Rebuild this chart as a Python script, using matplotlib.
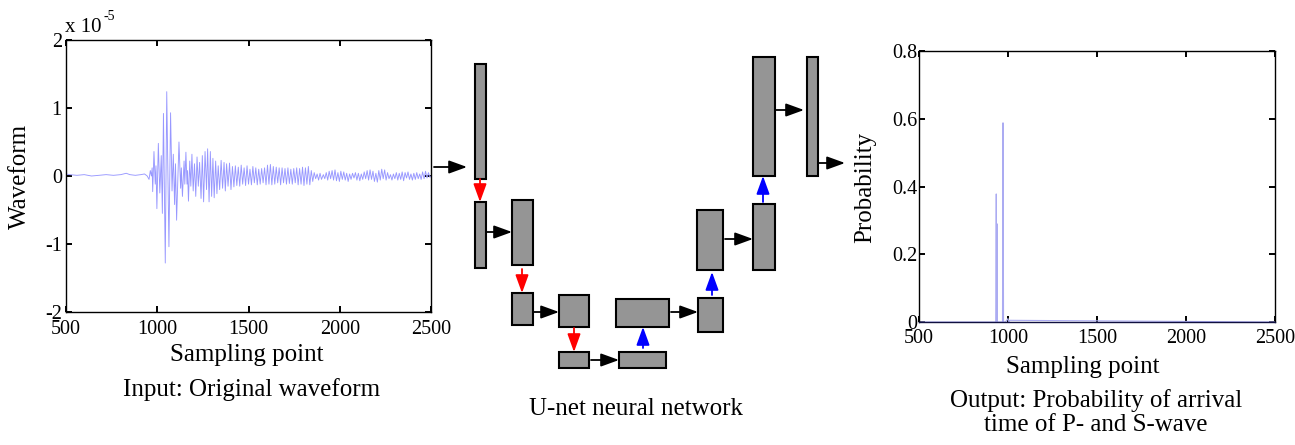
"""Input waveform -> U-net -> arrival probability, redrawn with matplotlib."""

import matplotlib

matplotlib.use("Agg")
import matplotlib.pyplot as plt
from matplotlib.patches import Rectangle
import numpy as np

plt.rcParams["font.family"] = ["Liberation Serif", "DejaVu Serif"]
plt.rcParams["axes.unicode_minus"] = False

# ---- input waveform (amplitude in units of 1e-5), extremes ----
wave_x = [
    500, 520, 560, 600, 640, 680, 720, 760, 800, 830, 850, 880, 910, 930, 945, 955, 962, 968, 972,
    975, 982, 989, 993, 998, 1006, 1014, 1022, 1028, 1034, 1044, 1052, 1064, 1073,
    1081, 1088, 1095, 1100, 1106, 1119, 1128, 1132, 1138, 1147, 1151, 1157, 1163, 1166, 1171,
    1178, 1184, 1190, 1197, 1204, 1211, 1218, 1225, 1232, 1240, 1247, 1254, 1262, 1270,
    1276, 1284, 1291, 1298, 1305, 1312, 1320, 1327, 1334, 1342,
    1350, 1358, 1366, 1373, 1380, 1388, 1396, 1404, 1412, 1420, 1428, 1436, 1444, 1452, 1460,
    1468, 1476, 1484, 1492, 1500,
    1508, 1516, 1524, 1532, 1540, 1548, 1556, 1564, 1572, 1580, 1588, 1596, 1604, 1612, 1620,
    1628, 1636, 1644, 1652, 1660, 1668, 1676, 1684, 1692, 1700, 1708, 1716, 1724, 1732, 1740,
    1748, 1756, 1764, 1772, 1780, 1788, 1796, 1804, 1812, 1820, 1828, 1836,
    1844, 1852, 1860, 1868, 1876, 1884, 1892, 1900, 1910, 1918, 1926, 1934, 1942, 1950, 1958,
    1966, 1974, 1982, 1990, 1998, 2006, 2014, 2022, 2030, 2038, 2046, 2054, 2062, 2070, 2078,
    2086, 2094, 2102, 2110, 2118, 2126, 2134, 2142, 2150, 2158, 2166, 2174, 2182, 2190, 2198,
    2206, 2214, 2222, 2230, 2238, 2246, 2254, 2262, 2270, 2278, 2286, 2294, 2302, 2310, 2318,
    2326, 2334, 2342, 2350, 2358, 2366, 2374, 2382, 2390, 2398, 2406, 2414, 2422, 2430, 2438,
    2446, 2454, 2462, 2470, 2478, 2486, 2494, 2500,
]
wave_amp = [
    0.03, 0.02, 0.01, 0.02, 0.00, 0.01, 0.02, 0.01, 0.02, 0.04, 0.02, 0.01, 0.02, 0.03, 0.00, -0.05, 0.08, 0.00, 0.12,
    -0.23, 0.36, -0.12, 0.15, -0.48, 0.48, -0.25, 0.30, -0.55, 0.92, -1.28, 1.24, -1.04, 0.93,
    -0.22, 0.32, -0.42, 0.18, -0.65, 0.50, -0.18, 0.12, -0.30, 0.22, -0.12, 0.35, -0.12, 0.08, -0.37,
    0.22, -0.15, 0.32, -0.22, 0.18, -0.30, 0.28, -0.15, 0.20, -0.33, 0.30, -0.38, 0.36, -0.20,
    0.40, -0.38, 0.36, -0.30, 0.26, -0.32, 0.22, -0.26, 0.15, -0.20,
    0.23, -0.18, 0.20, -0.22, 0.18, -0.15, 0.19, -0.20, 0.14, -0.16, 0.15, -0.14, 0.13, -0.15, 0.16,
    -0.12, 0.12, -0.14, 0.15, -0.12,
    0.10, -0.13, 0.14, -0.10, 0.12, -0.13, 0.10, -0.12, 0.11, -0.10, 0.12, -0.13, 0.16, -0.12, 0.17,
    -0.13, 0.14, -0.12, 0.13, -0.10, 0.12, -0.13, 0.12, -0.10, 0.11, -0.12, 0.12, -0.11, 0.10, -0.12,
    0.11, -0.10, 0.12, -0.13, 0.11, -0.12, 0.13, -0.14, 0.12, -0.12, 0.14, -0.13,
    0.08, -0.08, 0.05, -0.04, 0.03, -0.06, 0.04, -0.05, 0.02, -0.04, 0.05, -0.06, 0.07, -0.04, 0.08,
    -0.06, 0.09, -0.07, 0.05, -0.08, 0.07, -0.05, 0.06, -0.06, 0.04, -0.08, 0.03, -0.05, 0.04, -0.03,
    0.05, -0.06, 0.04, -0.07, 0.03, -0.05, 0.06, -0.04, 0.08, -0.06, 0.09, -0.05, 0.07, -0.08, 0.04,
    -0.09, 0.08, -0.06, 0.10, -0.04, 0.09, -0.06, 0.05, -0.04, 0.02, -0.06, 0.03, -0.04, 0.05, -0.06,
    0.04, -0.05, 0.06, -0.07, 0.05, -0.03, 0.06, -0.05, 0.03, -0.06, 0.04, -0.05, 0.05, -0.04, 0.03,
    -0.05, 0.06, -0.04, 0.07, -0.03, 0.05, -0.02, 0.00,
]

# ---- output probability ----
prob_x = [500, 931, 934, 936, 938, 940, 969, 972, 975, 985, 1000, 1004, 1010, 2500]
prob_y = [0.0, 0.0, 0.378, 0.0, 0.29, 0.0, 0.0, 0.588, 0.0, 0.0, 0.01, 0.0, 0.005, 0.0]

wave_ticks_x = [500, 1000, 1500, 2000, 2500]
wave_ticks_y = [-2, -1, 0, 1, 2]
prob_ticks_y = [0, 0.2, 0.4, 0.6, 0.8]
prob_tick_labels = ["0", "0.2", "0.4", "0.6", "0.8"]

# ---- U-net sketch, figure pixels: (x0, y0, x1, y1) ----
unet_blocks = [
    (475, 64, 486, 179), (475, 202, 486, 268), (512, 200, 533, 265), (512, 293, 533, 325),
    (559, 295, 589, 327), (559, 352, 589, 368), (619, 352, 666, 368), (616, 299, 669, 327),
    (698, 298, 723, 332), (697, 210, 723, 270), (753, 204, 775, 270), (753, 57, 775, 176),
    (807, 57, 818, 176),
]
unet_arrows = [
    (434, 167, 467, 167, "black"), (480, 179, 480, 202, "red"), (486, 232, 512, 232, "black"),
    (522, 269, 522, 293, "red"), (533, 312, 559, 312, "black"), (574, 328, 574, 352, "red"),
    (591, 360, 619, 360, "black"), (643, 348, 643, 327, "blue"), (671, 312, 698, 312, "black"),
    (712, 295, 712, 272, "blue"), (725, 239, 753, 239, "black"), (763, 202, 763, 176, "blue"),
    (776, 110, 804, 110, "black"), (819, 163, 845, 163, "black"),
]

W, H = 1295, 445
TICK_FS = 14.5
LABEL_FS = 18


def style_axes(ax):
    ax.tick_params(direction="in", top=True, right=True, length=4, width=1.4,
                   labelsize=TICK_FS)
    for sp in ax.spines.values():
        sp.set_linewidth(1.0)


fig = plt.figure(figsize=(W / 100, H / 100), dpi=100)

# input waveform
ax1 = fig.add_axes([66 / W, 1 - 312 / H, 365 / W, 272 / H])
ax1.plot(wave_x, wave_amp, color="#9898ff", lw=0.65)
ax1.set_xlim(500, 2500)
ax1.set_ylim(-2, 2)
ax1.set_xticks(wave_ticks_x)
ax1.set_yticks(wave_ticks_y)
style_axes(ax1)
ax1.tick_params(axis="y", pad=3)
ax1.tick_params(axis="x", pad=6)
ax1.set_xlabel("Sampling point", fontsize=LABEL_FS)
ax1.set_ylabel("Waveform", fontsize=LABEL_FS)
ax1.xaxis.set_label_coords(0.494, -0.158)
ax1.yaxis.set_label_coords(-0.126, 0.5)
ax1.xaxis.label.set_va("center")
ax1.yaxis.label.set_va("center")

# output probability
ax2 = fig.add_axes([919 / W, 1 - 322 / H, 356 / W, 271 / H])
ax2.plot(prob_x, prob_y, color="#ababf2", lw=0.8)
ax2.set_xlim(500, 2500)
ax2.set_ylim(0, 0.8)
ax2.set_xticks(wave_ticks_x)
ax2.set_yticks(prob_ticks_y)
ax2.set_yticklabels(prob_tick_labels)
style_axes(ax2)
ax2.spines["bottom"].set_color("#101040")
ax2.tick_params(axis="y", pad=1)
ax2.tick_params(axis="x", pad=5)
ax2.set_xlabel("Sampling point", fontsize=LABEL_FS)
ax2.set_ylabel("Probability", fontsize=LABEL_FS)
ax2.xaxis.set_label_coords(0.461, -0.166)
ax2.yaxis.set_label_coords(-0.152, 0.498)
ax2.xaxis.label.set_va("center")
ax2.yaxis.label.set_va("center")

# overlay in pixel coords for the diagram and captions
ov = fig.add_axes([0, 0, 1, 1], zorder=5)
ov.set_xlim(0, W)
ov.set_ylim(H, 0)
ov.axis("off")
ov.patch.set_alpha(0)

for x0, y0, x1, y1 in unet_blocks:
    ov.add_patch(Rectangle((x0, y0), x1 - x0, y1 - y0, facecolor="#959595",
                           edgecolor="black", lw=1.5))

for x0, y0, x1, y1, c in unet_arrows:
    ov.annotate("", xy=(x1, y1), xytext=(x0, y0),
                arrowprops=dict(arrowstyle="-|>,head_length=0.55,head_width=0.2",
                                color=c, lw=1.3, mutation_scale=20,
                                shrinkA=0, shrinkB=0))

# exponent marker of the waveform axis
ov.text(65, 27, "x 10", fontsize=15, ha="left", va="center")
ov.text(103, 16, "-5", fontsize=10, ha="left", va="center")

ov.text(252, 390, "Input: Original waveform", fontsize=LABEL_FS, ha="center", va="center")
ov.text(636, 409, "U-net neural network", fontsize=LABEL_FS, ha="center", va="center")
ov.text(1096, 401, "Output: Probability of arrival", fontsize=LABEL_FS, ha="center", va="center")
ov.text(1096, 425, "time of P- and S-wave", fontsize=LABEL_FS, ha="center", va="center")

fig.savefig("out.png", dpi=100)
plt.close(fig)
